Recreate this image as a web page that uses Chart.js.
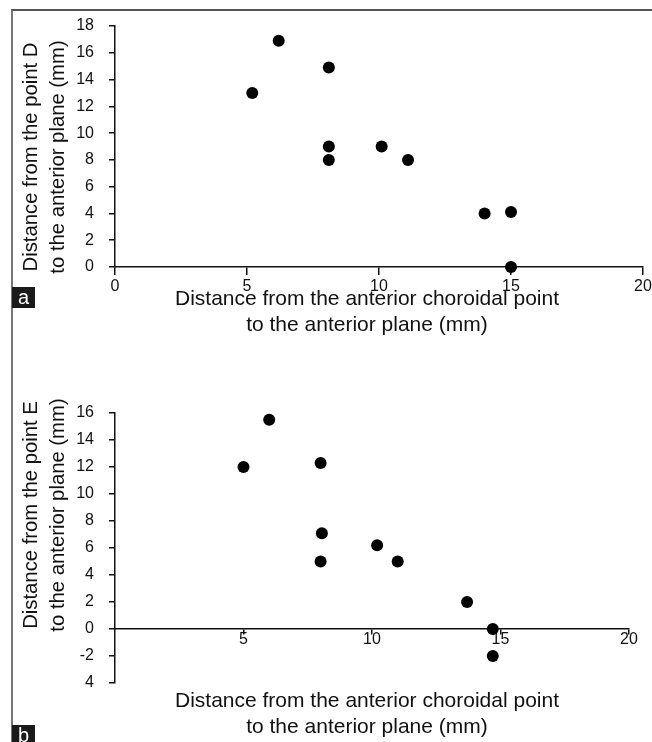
<!DOCTYPE html>
<html><head><meta charset="utf-8">
<script src="https://cdn.jsdelivr.net/npm/chart.js@4.4.0/dist/chart.umd.min.js"></script>
<style>
html,body{margin:0;padding:0;background:#fff;}
body{width:652px;height:742px;position:relative;overflow:hidden;font-family:"Liberation Sans",Arial,sans-serif;color:#111;}
.frame{position:absolute;left:11px;top:9px;width:700px;height:800px;border-left:2px solid #777;border-top:2px solid #555;}
canvas{position:absolute;left:0;}
.xt{position:absolute;width:520px;text-align:center;font-size:21px;line-height:26px;white-space:nowrap;}
.yt{position:absolute;width:320px;height:54px;text-align:center;font-size:20.3px;line-height:27px;transform:rotate(-90deg);white-space:nowrap;}
.lab{position:absolute;left:12px;width:23px;background:#1a1a1a;color:#fff;font-size:20px;line-height:21px;text-align:center;}
</style></head>
<body>
<div class="frame"></div>
<canvas id="ca" width="652" height="345" style="top:0;width:652px;height:345px"></canvas>
<canvas id="cb" width="652" height="397" style="top:345px;width:652px;height:397px"></canvas>
<div class="yt" style="left:-116px;top:130px">Distance from the point D<br>to the anterior plane (mm)</div>
<div class="xt" style="left:107px;top:285px">Distance from the anterior choroidal point<br>to the anterior plane (mm)</div>
<div class="lab" style="top:287px;height:21px">a</div>
<div class="yt" style="left:-116px;top:488px">Distance from the point E<br>to the anterior plane (mm)</div>
<div class="xt" style="left:107px;top:687px">Distance from the anterior choroidal point<br>to the anterior plane (mm)</div>
<div class="lab" style="top:725px;height:21px">b</div>
<script>
// Panel a: point D
const xA = [5.2, 6.2, 8.1, 8.1, 8.1, 10.1, 11.1, 14.0, 15.0, 15.0];
const yA = [13, 16.9, 14.9, 9, 8, 9, 8, 4, 4.1, 0];
const xTicksA = [0, 5, 10, 15, 20];
const yTicksA = [0, 2, 4, 6, 8, 10, 12, 14, 16, 18];
// Panel b: point E
const xB = [5.0, 6.0, 8.0, 8.05, 8.0, 10.2, 11.0, 13.7, 14.7, 14.7];
const yB = [12, 15.5, 12.3, 7.1, 5, 6.2, 5, 2, 0, -2];
const xTicksB = [5, 10, 15, 20];
const yTicksB = [-4, -2, 0, 2, 4, 6, 8, 10, 12, 14, 16];
const yTickTextB = ['4', '-2', '0', '2', '4', '6', '8', '10', '12', '14', '16'];

const INK = '#111';
const tickFont = {family: '"Liberation Sans", Arial, sans-serif', size: 16};

function pts(xs, ys) { return xs.map((x, i) => ({x: x, y: ys[i]})); }

function axisBase(tl, pad) {
  return {
    type: 'linear',
    grid: {display: true, drawOnChartArea: false, drawTicks: true, tickLength: tl, color: INK, lineWidth: 1.5},
    border: {display: true, color: INK, width: 1.5},
    ticks: {font: tickFont, color: INK, padding: pad, maxRotation: 0, autoSkip: false}
  };
}

function common() {
  return {
    responsive: false, animation: false, devicePixelRatio: 1,
    plugins: {legend: {display: false}, tooltip: {enabled: false}, title: {display: false}}
  };
}

// Chart a
const xa = axisBase(8, 2);
Object.assign(xa, {min: 0, max: 20,
  afterBuildTicks: s => { s.ticks = xTicksA.map(v => ({value: v})); },
  afterFit: s => { s.height = 78; s.paddingLeft = 0; s.paddingRight = 0; }});
const ya = axisBase(6, 15);
Object.assign(ya, {min: 0, max: 18,
  afterBuildTicks: s => { s.ticks = yTicksA.map(v => ({value: v})); },
  afterFit: s => { s.width = 115; s.paddingTop = 0; s.paddingBottom = 0; }});

new Chart(document.getElementById('ca'), {
  type: 'scatter',
  data: {datasets: [{data: pts(xA, yA), backgroundColor: '#000', borderWidth: 0, pointRadius: 6, pointHoverRadius: 6, clip: false}]},
  options: Object.assign(common(), {
    layout: {padding: {left: 0, right: 9, top: 26, bottom: 0}},
    scales: {x: xa, y: ya}
  })
});

// Chart b
const xb = axisBase(5, -4);
Object.assign(xb, {min: 0, max: 20, position: {y: 0},
  afterBuildTicks: s => { s.ticks = xTicksB.map(v => ({value: v})); },
  afterFit: s => { s.paddingLeft = 0; s.paddingRight = 0; }});
const yb = axisBase(6, 15);
Object.assign(yb, {min: -4, max: 16, position: 'left',
  afterBuildTicks: s => { s.ticks = yTicksB.map(v => ({value: v})); },
  afterFit: s => { s.width = 115; s.paddingTop = 0; s.paddingBottom = 0; }});
yb.ticks.callback = function(v) { const i = yTicksB.indexOf(v); return i >= 0 ? yTickTextB[i] : ''; };

new Chart(document.getElementById('cb'), {
  type: 'scatter',
  data: {datasets: [{data: pts(xB, yB), backgroundColor: '#000', borderWidth: 0, pointRadius: 6, pointHoverRadius: 6, clip: false}]},
  options: Object.assign(common(), {
    layout: {padding: {left: 0, right: 23, top: 68, bottom: 59}},
    scales: {x: xb, y: yb}
  })
});
</script>
</body></html>
